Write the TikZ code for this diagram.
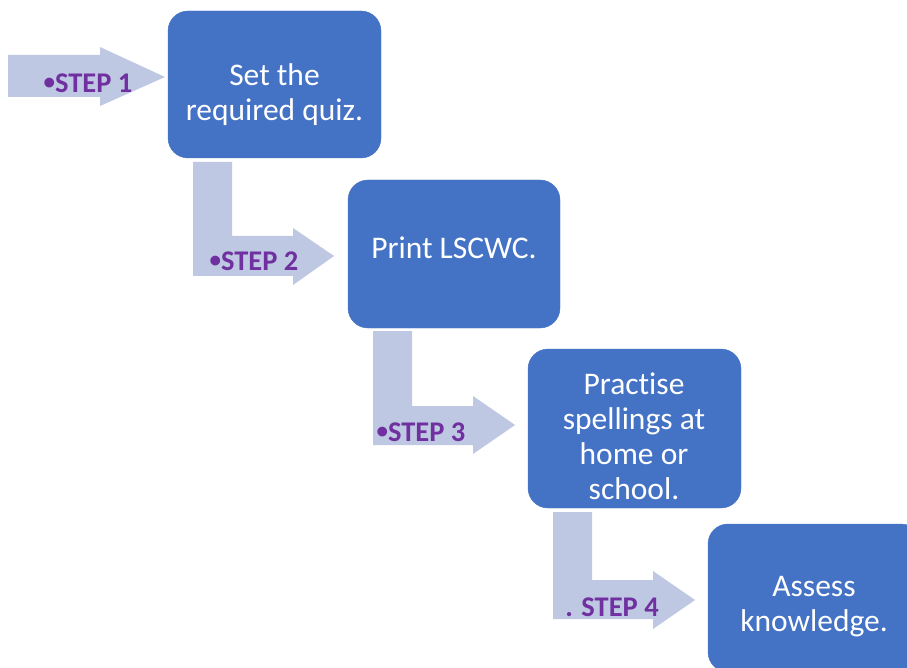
\documentclass[tikz,border=0pt]{standalone}
\usepackage{fontspec}
\setmainfont{Carlito}[Ligatures=NoCommon]
\definecolor{boxblue}{HTML}{4472C4}
\definecolor{arrowgrey}{HTML}{BEC8E3}
\definecolor{steppurple}{HTML}{7030A0}
\newcommand{\smbul}{\raisebox{2.5pt}{\fontsize{23}{23}\selectfont •}}
\begin{document}
\begin{tikzpicture}[x=1pt,y=-1pt,
  stepbox/.style={fill=boxblue,draw=boxblue,rounded corners=20pt},
  boxtext/.style={text=white,font=\fontsize{31.5}{35}\selectfont,align=center,inner sep=0pt},
  steparrow/.style={fill=arrowgrey,draw=none},
  steplabel/.style={text=steppurple,font=\fontsize{28.5}{30}\selectfont\bfseries,inner sep=0pt}]
\useasboundingbox (0,0) rectangle (907,668);
\fill[white] (0,0) rectangle (907,668);
% boxes
\path[stepbox] (168,11) rectangle (381,158);
\node[boxtext] (b1) at (274.5,95) {Set the\\required quiz.};
\path[stepbox] (348,180) rectangle (560,328);
\node[boxtext] (b2) at (454,248) {Print LSCWC.};
\path[stepbox] (528,349) rectangle (741,508);
\node[boxtext] (b3) at (634,436) {Practise\\spellings at\\home or\\school.};
\path[stepbox] (708,524) rectangle (921,672);
\node[boxtext] (b4) at (814,607) {Assess\\knowledge.};
% arrows
\fill[steparrow] (8,55) -- (100,55) -- (100,47) -- (165,77) -- (100,106) -- (100,97) -- (8,97) -- cycle;
\fill[steparrow] (193,162) -- (232,162) -- (232,236) -- (293,236) -- (293,228) -- (334,256) -- (293,285) -- (293,276) -- (193,276) -- cycle;
\fill[steparrow] (373,331) -- (412,331) -- (412,406) -- (473,406) -- (473,396) -- (515,425) -- (473,454) -- (473,445) -- (373,445) -- cycle;
\fill[steparrow] (553,512) -- (592,512) -- (592,580) -- (653,580) -- (653,571) -- (695,600) -- (653,629) -- (653,619) -- (553,619) -- cycle;
% labels
\node[steplabel] (s1) at (88,83) {\smbul STEP 1};
\node[steplabel] (s2) at (254,261) {\smbul STEP 2};
\node[steplabel] (s3) at (421,432) {\smbul STEP 3};
\node[steplabel] (s4) at (612,607) {. STEP 4};
\end{tikzpicture}
\end{document}
